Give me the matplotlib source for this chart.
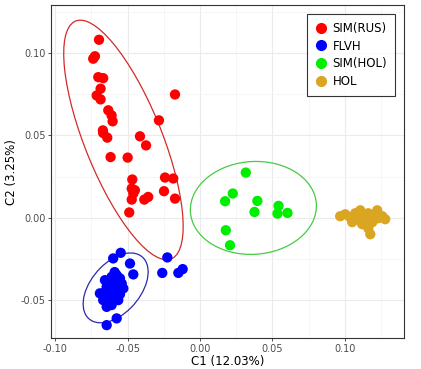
import numpy as np
import matplotlib.pyplot as plt
from matplotlib.patches import Ellipse
from matplotlib.lines import Line2D

# group data (C1, C2)
sim_rus_x = [-0.0698, -0.0726, -0.0738, -0.0703, -0.0669, -0.0687, -0.0714, -0.0687, -0.0634, -0.0611,
             -0.0604, -0.0173, -0.0284, -0.0671, -0.0669, -0.0641, -0.0415, -0.0373, -0.0618, -0.0500,
             -0.0468, -0.0472, -0.0450, -0.0461, -0.0472, -0.0385, -0.0358, -0.0242, -0.0185, -0.0249,
             -0.0173, -0.0489]
sim_rus_y = [0.1080, 0.0980, 0.0965, 0.0853, 0.0847, 0.0783, 0.0742, 0.0718, 0.0652, 0.0621,
             0.0585, 0.0748, 0.0591, 0.0530, 0.0514, 0.0486, 0.0494, 0.0439, 0.0368, 0.0365,
             0.0232, 0.0177, 0.0167, 0.0147, 0.0110, 0.0110, 0.0126, 0.0244, 0.0238, 0.0161,
             0.0116, 0.0032]

flvh_x = [-0.0548, -0.0600, -0.0484, -0.0461, -0.0657, -0.0611, -0.0576, -0.0553, -0.0645, -0.0611,
          -0.0576, -0.0541, -0.0530, -0.0692, -0.0657, -0.0622, -0.0588, -0.0553, -0.0669, -0.0634,
          -0.0600, -0.0565, -0.0645, -0.0611, -0.0576, -0.0645, -0.0226, -0.0261, -0.0150, -0.0120,
          -0.0590, -0.0630, -0.0600]
flvh_y = [-0.0213, -0.0247, -0.0278, -0.0344, -0.0379, -0.0359, -0.0348, -0.0368, -0.0419, -0.0409,
          -0.0409, -0.0399, -0.0429, -0.0459, -0.0450, -0.0459, -0.0470, -0.0464, -0.0500, -0.0510,
          -0.0490, -0.0500, -0.0541, -0.0530, -0.0611, -0.0652, -0.0241, -0.0335, -0.0335, -0.0312,
          -0.0330, -0.0440, -0.0430]

sim_hol_x = [0.0316, 0.0226, 0.0173, 0.0396, 0.0376, 0.0542, 0.0535, 0.0604, 0.0178, 0.0207]
sim_hol_y = [0.0274, 0.0147, 0.0100, 0.0102, 0.0035, 0.0072, 0.0025, 0.0029, -0.0076, -0.0167]

hol_x = [0.0968, 0.1003, 0.1037, 0.1072, 0.1093, 0.1120, 0.1141, 0.1162, 0.1176, 0.1190,
         0.1210, 0.1231, 0.1259, 0.1279, 0.1120, 0.1176, 0.1162, 0.1051, 0.1224, 0.1107]
hol_y = [0.0009, 0.0021, 0.0003, 0.0027, -0.0003, 0.0015, -0.0015, 0.0027, 0.0003, -0.0027,
         0.0021, -0.0003, 0.0009, -0.0009, -0.0039, -0.0100, -0.0064, -0.0027, 0.0045, 0.0045]

groups = ['SIM(RUS)', 'FLVH', 'SIM(HOL)', 'HOL']
group_colors = ['#FF0000', '#0000FF', '#00EE00', '#DAA520']
ellipse_colors = ['#D42A2A', '#2A2AB0', '#44CC44', None]


def trob_ellipse(x, y, level=0.95, nu=5, iters=100):
    # robust t covariance like MASS::cov.trob used by stat_ellipse
    X = np.column_stack([x, y])
    n, p = X.shape
    loc = X.mean(axis=0)
    cov = np.cov(X.T)
    for _ in range(iters):
        d = X - loc
        d2 = np.einsum('ij,jk,ik->i', d, np.linalg.inv(cov), d)
        w = (nu + p) / (nu + d2)
        loc = (w[:, None] * X).sum(axis=0) / w.sum()
        d = X - loc
        cov = (w[:, None] * d).T @ d / n
    dfd = n - 1
    fq = dfd / 2 * ((1 - level) ** (-2 / dfd) - 1)
    radius = np.sqrt(2 * fq)
    vals, vecs = np.linalg.eigh(cov)
    angle = np.degrees(np.arctan2(vecs[1, 1], vecs[0, 1]))
    return loc, 2 * radius * np.sqrt(vals[1]), 2 * radius * np.sqrt(vals[0]), angle


fig = plt.figure(figsize=(4.21, 3.69), dpi=100)
ax = fig.add_axes([0.121, 0.084, 0.839, 0.902])

data = [(sim_rus_x, sim_rus_y), (flvh_x, flvh_y), (sim_hol_x, sim_hol_y), (hol_x, hol_y)]
for (gx, gy), col, ecol in zip(data, group_colors, ellipse_colors):
    ax.scatter(gx, gy, s=55, color=col, edgecolors='none', zorder=3)
    if ecol is not None:
        loc, w, h, ang = trob_ellipse(np.array(gx), np.array(gy))
        ax.add_patch(Ellipse(loc, w, h, angle=ang, fill=False, edgecolor=ecol, lw=0.9, zorder=2))

ax.set_xlim(-0.103, 0.141)
ax.set_ylim(-0.073, 0.129)
ax.set_xticks([-0.10, -0.05, 0.00, 0.05, 0.10])
ax.set_yticks([-0.05, 0.00, 0.05, 0.10])
ax.set_xticks([-0.075, -0.025, 0.025, 0.075, 0.125], minor=True)
ax.set_yticks([-0.025, 0.025, 0.075, 0.125], minor=True)
ax.set_xticklabels(['-0.10', '-0.05', '0.00', '0.05', '0.10'])
ax.set_yticklabels(['-0.05', '0.00', '0.05', '0.10'])
ax.grid(which='major', color='#EBEBEB', lw=0.8, zorder=0)
ax.grid(which='minor', color='#F3F3F3', lw=0.5, zorder=0)
ax.set_axisbelow(True)
ax.tick_params(which='major', length=2.5, pad=1.5, color='#333333', labelsize=7,
               labelcolor='#4D4D4D', width=0.6)
ax.tick_params(which='minor', length=0)
for sp in ax.spines.values():
    sp.set_color('#333333')
    sp.set_linewidth(0.8)

ax.set_xlabel('C1 (12.03%)', fontsize=8.5, labelpad=1)
ax.set_ylabel('C2 (3.25%)', fontsize=8.5, labelpad=2)

handles = [Line2D([], [], marker='o', ls='none', color=c, markersize=7) for c in group_colors]
leg = ax.legend(handles, groups, loc='upper right', bbox_to_anchor=(0.974, 0.973), fontsize=8.5,
                frameon=True, fancybox=False, edgecolor='black', handletextpad=0.35,
                borderpad=0.65, labelspacing=0.4, handlelength=1.2, borderaxespad=0)
leg.get_frame().set_linewidth(0.8)

fig.savefig('out.png', dpi=100)
